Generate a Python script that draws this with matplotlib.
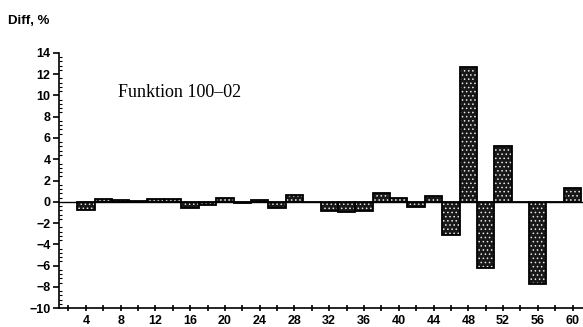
import matplotlib
matplotlib.use("Agg")
import matplotlib.pyplot as plt
from matplotlib.ticker import MultipleLocator, FixedLocator

# Position along x (bar centres) and difference in percent
positions = list(range(4, 61, 2))
diff = [-0.8, 0.3, 0.15, 0.05, 0.3, 0.3, -0.6, -0.3, 0.4, -0.1,
        0.2, -0.6, 0.65, -0.05, -0.9, -0.95, -0.85, 0.8, 0.35, -0.5,
        0.5, -3.1, 12.7, -6.2, 5.25, -0.05, -7.7, 0.0, 1.3]
xlabels = [str(v) for v in range(4, 61, 4)]
ylabels = [str(v).replace("-", "\u2212") for v in range(-10, 15, 2)]

plt.rcParams["font.family"] = ["Liberation Sans", "DejaVu Sans"]
plt.rcParams["hatch.linewidth"] = 0.6

fig = plt.figure(figsize=(5.83, 3.27), dpi=100)
ax = fig.add_axes([0.101, 0.058, 0.899, 0.78])

# dotted fill: dark base with white dot hatch, then black outline on top
ax.bar(positions, diff, width=2, color="#181818", edgecolor="#e8e8e8",
       hatch="....", linewidth=0)
ax.bar(positions, diff, width=2, fill=False, edgecolor="black", linewidth=1.3)
ax.axhline(0, color="black", lw=1)

ax.set_xlim(0.9, 61.2)
ax.set_ylim(-10, 14)

for s in ("top", "right"):
    ax.spines[s].set_visible(False)
ax.spines["left"].set_linewidth(1.2)
ax.spines["bottom"].set_linewidth(1.2)

ax.xaxis.set_major_locator(FixedLocator(range(4, 61, 4)))
ax.xaxis.set_minor_locator(FixedLocator(range(2, 61, 4)))
ax.set_xticklabels(xlabels, fontsize=9, fontweight="bold")
ax.tick_params(axis="x", which="both", direction="inout", length=4, width=1.2, pad=3)

ax.yaxis.set_major_locator(MultipleLocator(2))
ax.yaxis.set_minor_locator(MultipleLocator(0.4))
ax.set_yticks(range(-10, 15, 2))
ax.set_yticklabels(ylabels, fontsize=9, fontweight="bold")
ax.tick_params(axis="y", which="major", direction="out", length=4, width=1.2, pad=2)
ax.tick_params(axis="y", which="minor", direction="in", length=2.5, width=0.8)

fig.text(0.014, 0.935, "Diff, %", fontsize=9.5, fontweight="bold", va="center")
ax.text(7.7, 10.3, "Funktion 100\u201302", fontsize=13,
        family="Liberation Serif", va="center")

fig.savefig("out.png", dpi=100)
